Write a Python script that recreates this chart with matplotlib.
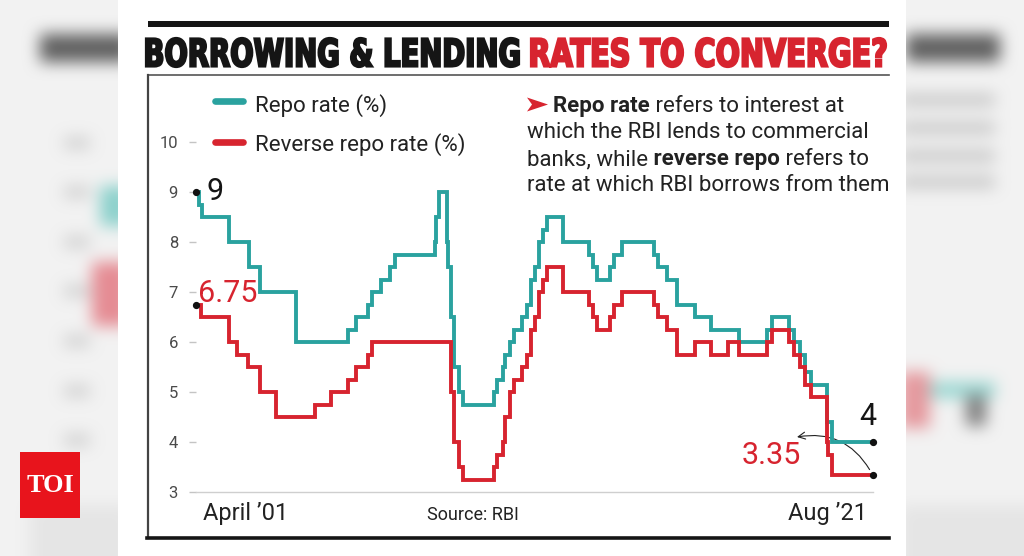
import numpy as np
import pandas as pd
import matplotlib
matplotlib.use("Agg")
import matplotlib.pyplot as plt
from matplotlib.textpath import TextPath
from matplotlib.font_manager import FontProperties
from matplotlib.patches import PathPatch, Rectangle, Polygon
from matplotlib.transforms import Affine2D

# policy rate changes (date the rate came into force, rate in %)
repo_dates = ["2001-04-01", "2001-05-01", "2001-06-07", "2002-03-28", "2002-11-01",
              "2003-03-03", "2004-03-31", "2005-10-26", "2006-01-24", "2006-06-09",
              "2006-07-25", "2006-10-31", "2007-01-31", "2007-03-30", "2008-06-12",
              "2008-06-25", "2008-07-30", "2008-10-20", "2008-11-03", "2008-12-08",
              "2009-01-05", "2009-03-05", "2009-04-21", "2010-03-19", "2010-04-20",
              "2010-07-02", "2010-07-27", "2010-09-16", "2010-11-02", "2011-01-25",
              "2011-03-17", "2011-05-03", "2011-06-16", "2011-07-26", "2011-09-16",
              "2011-10-25", "2012-04-17", "2013-01-29", "2013-03-19", "2013-05-03",
              "2013-09-20", "2013-10-29", "2014-01-28", "2015-01-15", "2015-03-04",
              "2015-06-02", "2015-09-29", "2016-04-05", "2016-10-04", "2017-08-02",
              "2018-06-06", "2018-08-01", "2019-02-07", "2019-04-04", "2019-06-06",
              "2019-08-07", "2019-10-04", "2020-03-27", "2020-05-22", "2021-08-20"]
repo_vals = [9.0, 8.75, 8.5, 8.0, 7.5,
             7.0, 6.0, 6.25, 6.5, 6.75,
             7.0, 7.25, 7.5, 7.75, 8.0,
             8.5, 9.0, 8.0, 7.5, 6.5,
             5.5, 5.0, 4.75, 5.0, 5.25,
             5.5, 5.75, 6.0, 6.25, 6.5,
             6.75, 7.25, 7.5, 8.0, 8.25,
             8.5, 8.0, 7.75, 7.5, 7.25,
             7.5, 7.75, 8.0, 7.75, 7.5,
             7.25, 6.75, 6.5, 6.25, 6.0,
             6.25, 6.5, 6.25, 6.0, 5.75,
             5.4, 5.15, 4.4, 4.0, 4.0]

rev_dates = ["2001-04-01", "2001-05-28", "2002-03-28", "2002-06-27", "2002-10-30",
             "2003-03-03", "2003-08-25", "2004-10-27", "2005-04-29", "2005-10-26",
             "2006-01-24", "2006-06-09", "2006-07-25", "2008-12-08", "2009-01-05",
             "2009-03-05", "2009-04-21", "2010-03-19", "2010-04-20", "2010-07-02",
             "2010-07-27", "2010-09-16", "2010-11-02", "2011-01-25", "2011-03-17",
             "2011-05-03", "2011-06-16", "2011-07-26", "2011-09-16", "2011-10-25",
             "2012-04-17", "2013-01-29", "2013-03-19", "2013-05-03", "2013-09-20",
             "2013-10-29", "2014-01-28", "2015-01-15", "2015-03-04", "2015-06-02",
             "2015-09-29", "2016-04-05", "2016-10-04", "2017-04-06", "2017-08-02",
             "2018-06-06", "2018-08-01", "2019-02-07", "2019-04-04", "2019-06-06",
             "2019-08-07", "2019-10-04", "2020-03-27", "2020-04-17", "2020-05-22",
             "2021-08-20"]
rev_vals = [6.75, 6.5, 6.0, 5.75, 5.5,
            5.0, 4.5, 4.75, 5.0, 5.25,
            5.5, 5.75, 6.0, 5.0, 4.0,
            3.5, 3.25, 3.5, 3.75, 4.0,
            4.5, 5.0, 5.25, 5.5, 5.75,
            6.25, 6.5, 7.0, 7.25, 7.5,
            7.0, 6.75, 6.5, 6.25, 6.5,
            6.75, 7.0, 6.75, 6.5, 6.25,
            5.75, 6.0, 5.75, 6.0, 5.75,
            6.0, 6.25, 6.0, 5.75, 5.5,
            5.15, 4.9, 4.0, 3.75, 3.35,
            3.35]

yticks = [3, 4, 5, 6, 7, 8, 9, 10]

TEAL = "#2aa29f"
RED = "#d7242f"
FONT = ["Roboto", "DejaVu Sans"]

W, H = 1024, 556
fig = plt.figure(figsize=(W / 100, H / 100), dpi=100)

# full-figure axes in pixel coords (y down) for the page furniture
bg = fig.add_axes([0, 0, 1, 1])
bg.set_xlim(0, W)
bg.set_ylim(H, 0)
bg.axis("off")

# blurred page behind the card
img = np.full((H, W, 3), 0.95)
def paint(x0, x1, y0, y1, rgb):
    img[y0:y1, x0:x1] = rgb

def blur(a, r, axis):
    pad = [(0, 0)] * a.ndim
    pad[axis] = (r + 1, r)
    c = np.cumsum(np.pad(a, pad, mode="edge"), axis=axis)
    n = a.shape[axis]
    hi = np.take(c, np.arange(2 * r + 1, 2 * r + 1 + n), axis=axis)
    lo = np.take(c, np.arange(0, n), axis=axis)
    return (hi - lo) / (2 * r + 1)

paint(40, 130, 34, 62, 0.38)
paint(906, 1000, 34, 62, 0.38)
for yy in [143, 192, 242, 291, 341, 391, 440]:
    paint(64, 90, yy - 6, yy + 6, 0.82)
for yy in [100, 128, 156, 182]:
    paint(900, 995, yy - 6, yy + 6, 0.78)
paint(100, 130, 186, 226, (0.55, 0.82, 0.80))
paint(92, 130, 262, 326, (0.90, 0.55, 0.58))
paint(900, 930, 372, 428, (0.90, 0.60, 0.62))
paint(930, 995, 382, 398, (0.60, 0.84, 0.82))
paint(966, 986, 395, 426, 0.50)
paint(30, 130, 505, 556, 0.90)
paint(900, 1024, 505, 556, 0.90)
for _ in range(3):
    img = blur(blur(img, 7, 0), 7, 1)
bg.imshow(np.clip(img, 0, 1), extent=(0, W, H, 0), aspect="auto",
          interpolation="nearest", zorder=0)

# white card
bg.add_patch(Rectangle((118, 0), 788, H, fc="white", ec="none", zorder=1))

# TOI logo
bg.add_patch(Rectangle((20, 452), 60, 66, fc="#e8141c", ec="none", zorder=2))
bg.text(50, 485, "TOI", color="white", fontsize=19, fontweight="bold",
        family=["Liberation Serif", "DejaVu Serif"], ha="center", va="center", zorder=3)

# top rule, title and frame
bg.add_patch(Rectangle((148, 21), 741, 6, fc="#151515", ec="none", zorder=2))
bg.plot([148, 889], [75, 75], color="#555555", lw=1.2, zorder=2)
bg.plot([148, 148], [75, 538], color="#444444", lw=1.6, zorder=2)
bg.plot([147, 889], [538, 538], color="#151515", lw=2.6, zorder=2)

title_font = FontProperties(family=["Liberation Sans Narrow", "DejaVu Sans"], weight="bold")
def fit_title(s, x0, x1, ytop, ybase, color):
    tp = TextPath((0, 0), s, size=100, prop=title_font)
    bb = tp.get_extents()
    tr = (Affine2D().translate(-bb.x0, -bb.y0)
          .scale((x1 - x0) / bb.width, -(ybase - ytop) / bb.height)
          .translate(x0, ybase))
    bg.add_patch(PathPatch(tr.transform_path(tp), fc=color, ec=color, lw=1.6,
                           joinstyle="miter", zorder=3))

fit_title("BORROWING & LENDING", 146, 519, 38, 67, "#151515")
fit_title("RATES TO CONVERGE?", 531, 886, 38, 67, RED)

# legend
bg.plot([215, 243], [101, 101], color=TEAL, lw=4.8, solid_capstyle="round", zorder=3)
bg.plot([215, 243], [142, 142], color=RED, lw=4.8, solid_capstyle="round", zorder=3)
bg.text(255, 112, "Repo rate (%)", fontsize=16, family=FONT, color="#222222", va="baseline", zorder=3)
bg.text(255, 151, "Reverse repo rate (%)", fontsize=16, family=FONT, color="#222222", va="baseline", zorder=3)

# explanatory note, pieces with mixed weights
note = [
    (553, 112, [("Repo rate", "bold"), (" refers to interest at", "normal")]),
    (527, 138, [("which the RBI lends to commercial", "normal")]),
    (527, 165, [("banks, while", "normal"), (" reverse repo", "bold"), (" refers to", "normal")]),
    (527, 191, [("rate at which RBI borrows from them", "normal")]),
]
for x, y, pieces in note:
    t = bg.text(x, y, pieces[0][0], fontsize=16, fontweight=pieces[0][1], family=FONT,
                color="#222222", va="baseline", zorder=3)
    for s, w in pieces[1:]:
        t = bg.annotate(s, xy=(1, 0), xycoords=t, va="bottom", fontsize=16,
                        fontweight=w, family=FONT, color="#222222", zorder=3)
bg.add_patch(Polygon([(527, 97.5), (548, 104.5), (527, 111.5), (532, 104.5)],
                     closed=True, fc=RED, ec="none", zorder=3))

# axis captions
bg.text(203, 520, "April \u201901", fontsize=17, family=FONT, color="#222222", va="baseline", zorder=3)
bg.text(867, 520, "Aug \u201921", fontsize=17, family=FONT, color="#222222", ha="right", va="baseline", zorder=3)
bg.text(427, 520, "Source: RBI", fontsize=13, family=FONT, color="#222222", va="baseline", zorder=3)

# chart
repo_x = pd.to_datetime(repo_dates)
rev_x = pd.to_datetime(rev_dates)
ax = fig.add_axes([196 / W, (H - 492) / H, (873 - 196) / W, (492 - 142) / H])
ax.patch.set_alpha(0)
ax.set_ylim(3, 10)
ax.set_xlim(pd.Timestamp("2001-04-01"), pd.Timestamp("2021-08-20"))
for side in ["top", "right", "left"]:
    ax.spines[side].set_visible(False)
ax.spines["bottom"].set_color("#cfcfcf")
ax.spines["bottom"].set_linewidth(1.0)
ax.set_xticks([])
ax.set_yticks(yticks)
ax.set_yticklabels([str(v) for v in yticks], family=FONT)
ax.tick_params(axis="y", length=5, width=1, color="#c4c4c4", pad=8,
               labelsize=12, labelcolor="#4a4a4a")

ax.plot(repo_x, repo_vals, drawstyle="steps-post", color=TEAL, lw=2.8,
        solid_joinstyle="miter", clip_on=False, zorder=3)
ax.plot(rev_x, rev_vals, drawstyle="steps-post", color=RED, lw=2.8,
        solid_joinstyle="miter", clip_on=False, zorder=4)

ends = [(repo_x[0], repo_vals[0]), (rev_x[0], rev_vals[0]),
        (repo_x[-1], repo_vals[-1]), (rev_x[-1], rev_vals[-1])]
for xd, yv in ends:
    ax.plot([xd], [yv], "o", color="#111111", ms=4.2, clip_on=False, zorder=6)

big = dict(fontsize=22, family=FONT, textcoords="offset pixels", va="baseline", zorder=6)
ax.annotate("9", xy=(repo_x[0], repo_vals[0]), xytext=(10, -8), color="#151515", **big)
ax.annotate("6.75", xy=(rev_x[0], rev_vals[0]), xytext=(2, 2), color=RED, **big)
ax.annotate("4", xy=(repo_x[-1], repo_vals[-1]), xytext=(-14, 17), color="#151515", **big)
ax.annotate("3.35", xy=(rev_x[-1], rev_vals[-1]), xytext=(-131, 10), color=RED, **big)

bg.annotate("", xy=(797, 437), xytext=(871, 472),
            arrowprops=dict(arrowstyle="->,head_length=0.5,head_width=0.25", lw=0.8,
                            color="#222222", connectionstyle="arc3,rad=0.35",
                            shrinkA=2, shrinkB=0), zorder=6)

fig.savefig("out.png", dpi=100)
